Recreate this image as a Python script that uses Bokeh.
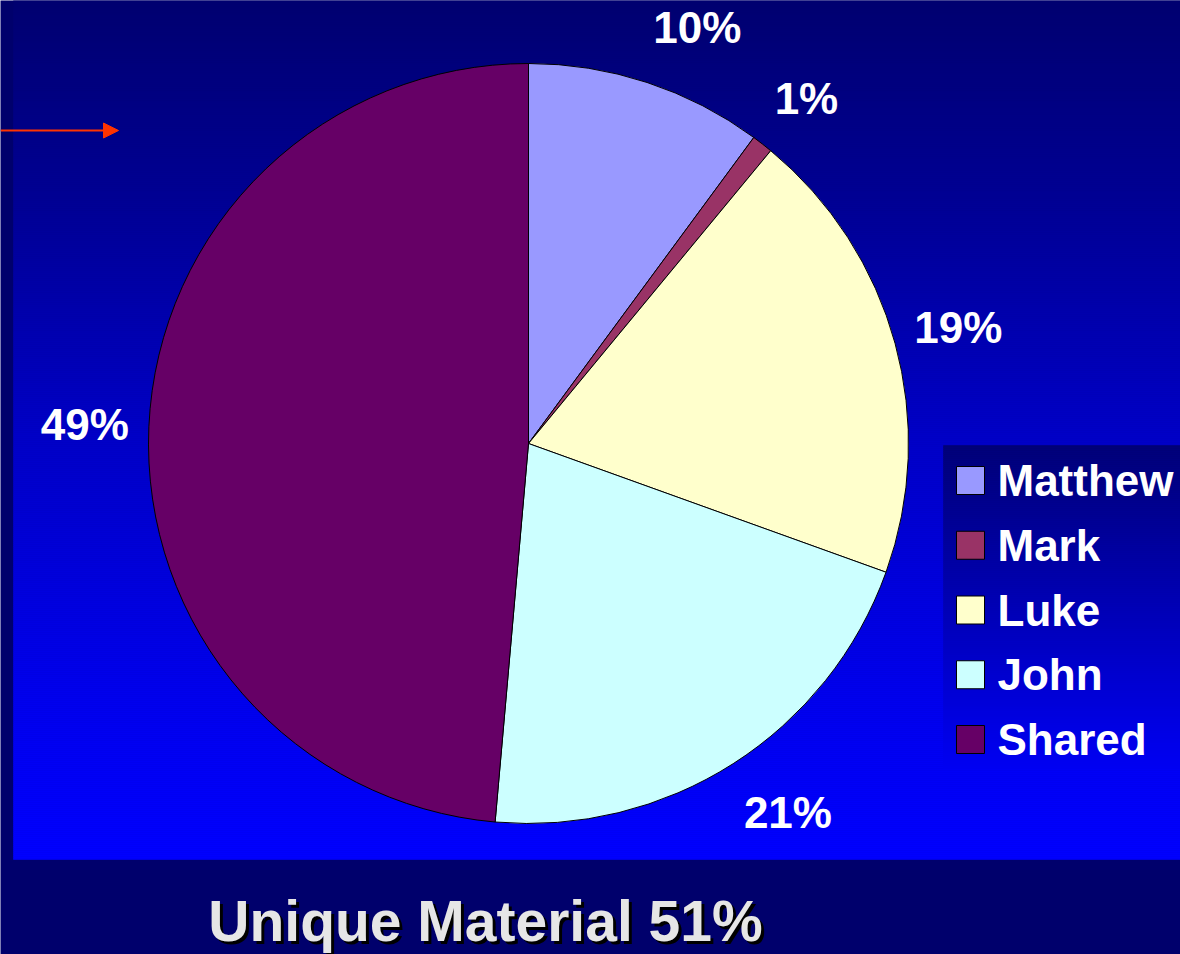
import numpy as np
from bokeh.plotting import figure
from bokeh.models import Range1d, ColumnDataSource, Arrow, NormalHead
from bokeh.core.properties import value
from bokeh.embed import file_html
from bokeh.resources import INLINE

# ---------------- data ----------------
categories = ["Matthew", "Mark", "Luke", "John", "Shared"]
shares = [10.1, 0.9, 19.5, 20.9, 48.6]
pct_labels = ["10%", "1%", "19%", "21%", "49%"]
colors = ["#9999ff", "#993366", "#ffffcc", "#ccffff", "#660066"]
title_text = "Unique Material 51%"

# ---------------- layout ----------------
W, H = 1180, 954
OX, OY = 0, 954          # reference pixel -> data: x = rx - OX, y = OY - ry


def X(rx):
    return rx - OX


def Y(ry):
    return OY - ry


FONT = value("Liberation Sans")

p = figure(width=W, height=H, x_range=Range1d(0, W), y_range=Range1d(0, H),
           toolbar_location=None, output_backend="svg", min_border=0,
           x_axis_location=None, y_axis_location=None)
p.background_fill_color = "#00006c"
p.border_fill_color = "#00006c"
p.outline_line_color = None
p.xgrid.visible = False
p.ygrid.visible = False


def gradient_strips(y0, y1, stops_y, stops_v, step=2):
    tops = np.arange(y0, y1, step, dtype=float)
    bots = np.minimum(tops + step, y1)
    mid = (tops + bots) / 2
    b = np.clip(np.interp(mid, stops_y, stops_v).round().astype(int), 0, 255)
    cols = ["#%02x%02x%02x" % (0, 0, v) for v in b]
    return tops, bots, cols


# background panel (vertical gradient)
t, b, c = gradient_strips(0, 859, [0, 200, 430, 700, 859], [0x70, 0x94, 0xc6, 0xee, 0xff])
p.quad(left=X(13), right=W + 10, top=[Y(v) for v in t], bottom=[Y(v) for v in b],
       fill_color=c, line_color=c, line_width=0.6)

# legend box background gradient
t, b, c = gradient_strips(445, 768, [445, 768], [0x76, 0xf2])
p.quad(left=X(943), right=W + 10, top=[Y(v) for v in t], bottom=[Y(v) for v in b],
       fill_color=c, line_color=c, line_width=0.6)

# ---------------- pie ----------------
CX, CY, R = X(528), Y(443), 380
frac = np.array(shares) / np.sum(shares)
cum = np.concatenate([[0.0], np.cumsum(frac)])
start = np.pi / 2 - 2 * np.pi * cum[:-1]
end = np.pi / 2 - 2 * np.pi * cum[1:]
mid = (start + end) / 2

src = ColumnDataSource(dict(cat=categories, start=start, end=end, color=colors))
p.wedge(x=CX, y=CY, radius=R, start_angle="start", end_angle="end", direction="clock",
        fill_color="color", line_color="black", line_width=1, source=src)

# percentage labels outside the pie
LFS = 44
ux, uy = np.cos(mid), np.sin(mid)
half_w = np.array([LFS * (0.556 * (len(s) - 1) + 0.889) / 2 for s in pct_labels])
lx = CX + (R + 20) * ux + np.sign(ux) * half_w
ly = CY + (R + 58) * uy
p.text(x=lx, y=ly, text=pct_labels, text_font=FONT, text_font_style="bold",
       text_font_size=f"{LFS}px", text_color="#ffffff", text_align="center",
       text_baseline="middle")

# ---------------- legend ----------------
idx = np.arange(len(categories))
row_y = Y(480 + idx * 64.75)
leg = ColumnDataSource(dict(cat=categories, color=colors, y=row_y))
p.rect(x=X(970), y="y", width=28, height=28, fill_color="color", line_color="black",
       line_width=1, source=leg)
p.text(x=X(997), y="y", text="cat", text_font=FONT, text_font_style="bold",
       text_font_size="44px", text_color="#ffffff", text_align="left",
       text_baseline="middle", source=leg)

# ---------------- title ----------------
TX, TY = X(485), Y(920)
p.text(x=[TX + 3], y=[TY - 3], text=[title_text], text_font=FONT, text_font_style="bold",
       text_font_size="57px", text_color="#000000", text_align="center",
       text_baseline="middle")
p.text(x=[TX], y=[TY], text=[title_text], text_font=FONT, text_font_style="bold",
       text_font_size="57px", text_color="#e6e6e6", text_align="center",
       text_baseline="middle")

# ---------------- red arrow ----------------
p.add_layout(Arrow(end=NormalHead(size=15, fill_color="#ff3300", line_color="#ff3300"),
                   x_start=X(0), y_start=Y(130), x_end=X(118), y_end=Y(130),
                   line_color="#ff3300", line_width=2))

open("out.html", "w").write(file_html(p, INLINE))
